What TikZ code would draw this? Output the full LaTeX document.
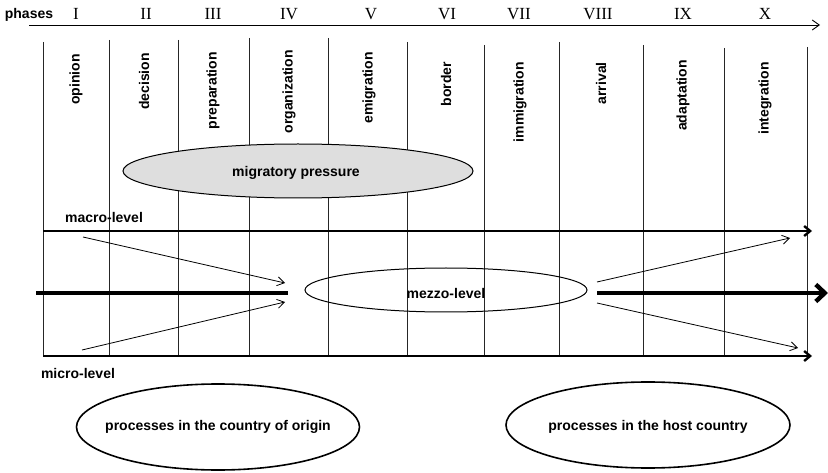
\documentclass[tikz,border=0pt]{standalone}
\usepackage{fontspec}
\setmainfont{Liberation Sans}
\newfontfamily\romanfont{Liberation Serif}
\usetikzlibrary{arrows.meta,shapes.geometric}
\begin{document}
\begin{tikzpicture}[x=1pt,y=-1pt,
  lbl/.style={font=\fontsize{14}{16}\selectfont\bfseries, inner sep=0pt},
  num/.style={font=\romanfont\fontsize{17}{19}\selectfont, inner sep=0pt},
  phaselbl/.style={lbl, rotate=90, anchor=east},
  vline/.style={line width=1pt, draw=black!85},
  thinarrow/.style={line width=0.8pt, -{Straight Barb[length=7pt,width=9pt]}},
  levelline/.style={line width=2.4pt},
  bigell/.style={ellipse, draw, line width=1.6pt, inner sep=0pt},
  ell/.style={ellipse, draw, line width=1pt, inner sep=0pt}]
\useasboundingbox (0,0) rectangle (828,473);

% phases axis
\node[lbl] (ph) at (29,15) {phases};
\coordinate (pa) at (29,25);
\coordinate (pb) at (820,25);
\draw[line width=0.9pt, -{Straight Barb[length=7pt,width=10pt]}] (pa) -- (pb);

\foreach \n/\x in {I/76,II/146,III/213,IV/289,V/371,VI/447,VII/519,VIII/598,IX/683,X/765}
  \node[num] (n\n) at (\x,14) {\n};

% vertical lines
\foreach \i/\x/\t in {1/43/42,2/109/40,3/178/40,4/249/38,5/328/38,6/407/42,7/484/45,8/559/42,9/643/45,10/724/48,11/807/47}{
  \coordinate (vt\i) at (\x,\t);
  \coordinate (vb\i) at (\x,356);
  \draw[vline] (vt\i) -- (vb\i);
}

% phase labels
\node[phaselbl] (p1) at (76,54) {opinion};
\node[phaselbl] (p2) at (144,53) {decision};
\node[phaselbl] (p3) at (213,52) {preparation};
\node[phaselbl] (p4) at (289,50) {organization};
\node[phaselbl] (p5) at (369,52) {emigration};
\node[phaselbl] (p6) at (446,62) {border};
\node[phaselbl] (p7) at (520,62) {immigration};
\node[phaselbl] (p8) at (601,62) {arrival};
\node[phaselbl] (p9) at (683,60) {adaptation};
\node[phaselbl] (p10) at (765,62) {integration};

% migratory pressure
\node[ell, fill=black!13, minimum width=350pt, minimum height=54pt] (mp) at (298,171) {};
\node[lbl] (mpt) at (296,173) {migratory pressure};

% macro level
\node[lbl] (mac) at (104,217) {macro-level};
\coordinate (ma) at (43,231);
\coordinate (mb) at (812,231);
\draw[levelline, -{Straight Barb[length=6pt,width=10pt]}] (ma) -- (mb);

% micro level
\node[lbl] (mic) at (78,373) {micro-level};
\coordinate (mia) at (43,356);
\coordinate (mib) at (812,356);
\draw[levelline, -{Straight Barb[length=6pt,width=10pt]}] (mia) -- (mib);

% mezzo level
\node[ell, minimum width=282pt, minimum height=44pt] (mz) at (446,290) {};
\node[lbl] (mzt) at (446,293) {mezzo-level};
\coordinate (za) at (36,293);
\coordinate (zb) at (288,293);
\coordinate (zc) at (597,293);
\coordinate (zd) at (828,293);
\draw[line width=4.4pt] (za) -- (zb);
\draw[line width=4.4pt, -{Straight Barb[length=9pt,width=17pt]}] (zc) -- (zd);

% thin arrows
\coordinate (t1a) at (83,237);
\coordinate (t1b) at (285,283);
\coordinate (t2a) at (82,350);
\coordinate (t2b) at (285,302);
\coordinate (t3a) at (597,282);
\coordinate (t3b) at (790,238);
\coordinate (t4a) at (597,303);
\coordinate (t4b) at (798,348);
\draw[thinarrow] (t1a) -- (t1b);
\draw[thinarrow] (t2a) -- (t2b);
\draw[thinarrow] (t3a) -- (t3b);
\draw[thinarrow] (t4a) -- (t4b);

% bottom ellipses
\node[bigell, minimum width=283pt, minimum height=86pt] (orig) at (218,427) {};
\node[lbl] (origt) at (218,427) {processes in the country of origin};
\node[bigell, minimum width=284pt, minimum height=86pt] (host) at (648,425) {};
\node[lbl] (hostt) at (648,427) {processes in the host country};
\end{tikzpicture}
\end{document}
